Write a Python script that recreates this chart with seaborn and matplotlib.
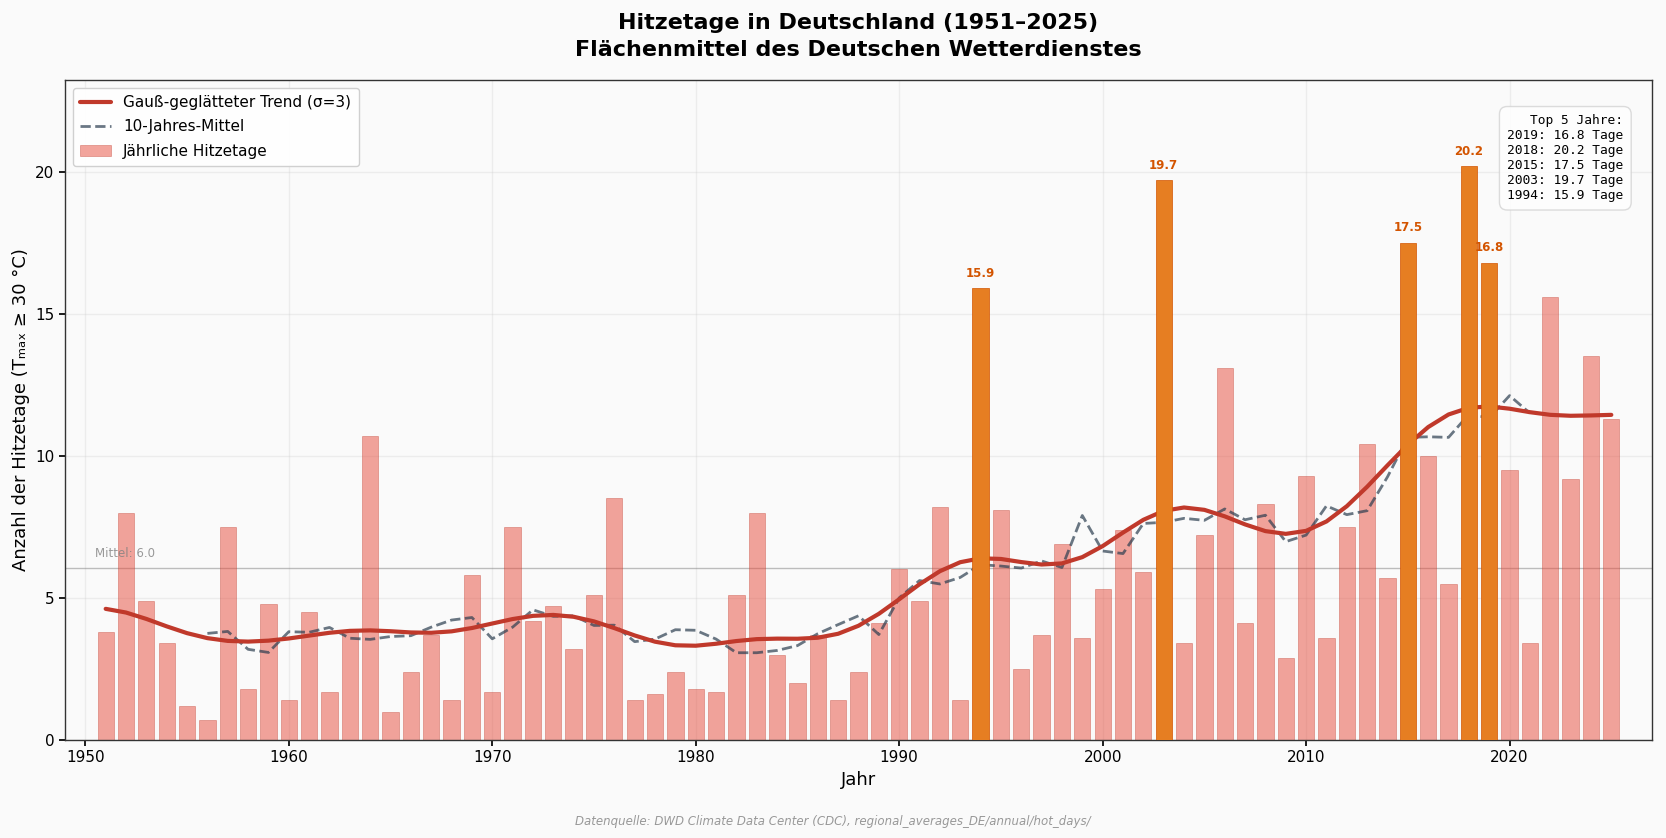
import numpy as np
import pandas as pd
import seaborn as sns
import matplotlib.pyplot as plt
from matplotlib.patches import Patch
from matplotlib.lines import Line2D

years = np.arange(1951, 2026)
hot_days = np.array([
    3.8, 8.0, 4.9, 3.4, 1.2, 0.7, 7.5, 1.8, 4.8, 1.4,
    4.5, 1.7, 3.8, 10.7, 1.0, 2.4, 3.7, 1.4, 5.8, 1.7,
    7.5, 4.2, 4.7, 3.2, 5.1, 8.5, 1.4, 1.6, 2.4, 1.8,
    1.7, 5.1, 8.0, 3.0, 2.0, 3.7, 1.4, 2.4, 4.1, 6.0,
    4.9, 8.2, 1.4, 15.9, 8.1, 2.5, 3.7, 6.9, 3.6, 5.3,
    7.4, 5.9, 19.7, 3.4, 7.2, 13.1, 4.1, 8.3, 2.9, 9.3,
    3.6, 7.5, 10.4, 5.7, 17.5, 10.0, 5.5, 20.2, 16.8, 9.5,
    3.4, 15.6, 9.2, 13.5, 11.3,
])
top_years = [2019, 2018, 2015, 2003, 1994]

SIGMA = 3


def gauss_smooth(values, sigma, truncate=4.0):
    # same as scipy gaussian_filter1d with mode="reflect"
    radius = int(truncate * sigma + 0.5)
    offs = np.arange(-radius, radius + 1)
    w = np.exp(-0.5 * (offs / sigma) ** 2)
    w /= w.sum()
    padded = np.pad(values, radius, mode="symmetric")
    return np.convolve(padded, w, mode="valid")


df = pd.DataFrame({"Jahr": years, "Hitzetage": hot_days})
df["Trend"] = gauss_smooth(hot_days, SIGMA)
df["Mittel10"] = df["Hitzetage"].rolling(10, center=True).mean()
df["top"] = df["Jahr"].isin(top_years)
mean_val = df["Hitzetage"].mean()

sns.set_theme(style="ticks")
plt.rcParams["font.family"] = ["DejaVu Sans"]
plt.rcParams.update({"text.color": "black", "axes.labelcolor": "black",
                     "xtick.color": "black", "ytick.color": "black"})

fig = plt.figure(figsize=(16.66, 8.38), dpi=100, facecolor="#fafafa")
ax = fig.add_axes([0.039, 0.117, 0.9526, 0.7876])
ax.set_facecolor("#fafafa")

sns.barplot(data=df[~df["top"]], x="Jahr", y="Hitzetage", native_scale=True,
            color="#e74c3c", alpha=0.5, saturation=1, errorbar=None,
            edgecolor="#c0392b", linewidth=0.5, width=0.8, ax=ax, zorder=2)

sns.lineplot(data=df, x="Jahr", y="Mittel10", color="#2c3e50", alpha=0.7,
             lw=2, ls="--", ax=ax, zorder=3)
sns.lineplot(data=df, x="Jahr", y="Trend", color="#c0392b", lw=3, ax=ax, zorder=4)

sns.barplot(data=df[df["top"]], x="Jahr", y="Hitzetage", native_scale=True,
            color="#e67e22", saturation=1, errorbar=None,
            edgecolor="#d35400", linewidth=0.5, width=0.8, ax=ax, zorder=5)

for _, r in df[df["top"]].iterrows():
    ax.text(r["Jahr"], r["Hitzetage"] + 0.3, f"{r['Hitzetage']:.1f}", ha="center",
            va="bottom", fontsize=8.5, fontweight="bold", color="#d35400", zorder=6)

ax.axhline(mean_val, color="gray", lw=1, alpha=0.5, zorder=1)
ax.text(years[0] - 0.5, mean_val + 0.3, f"Mittel: {mean_val:.1f}", fontsize=8.5,
        color="gray", alpha=0.8, va="bottom")

top_txt = "Top 5 Jahre:\n" + "\n".join(
    f"{y}: {df.loc[df['Jahr'] == y, 'Hitzetage'].iloc[0]:.1f} Tage" for y in top_years)
ax.text(0.982, 0.948, top_txt, transform=ax.transAxes, ha="right", va="top",
        fontsize=9.3, family="DejaVu Sans Mono", zorder=7,
        bbox=dict(boxstyle="round,pad=0.6", facecolor="white", edgecolor="lightgray", alpha=0.8))

ax.set_xlim(years[0] - 2, years[-1] + 2)
ax.set_ylim(0, hot_days.max() * 1.15)
ax.set_xticks(np.arange(1950, 2030, 10))
ax.set_yticks([0, 5, 10, 15, 20])
ax.tick_params(labelsize=11, colors="black", length=4)
ax.grid(True, alpha=0.3)
ax.set_axisbelow(True)
for s in ax.spines.values():
    s.set_visible(True)
    s.set_color("#333333")
    s.set_linewidth(1)

ax.set_xlabel("Jahr", fontsize=13)
ax.set_ylabel("Anzahl der Hitzetage (Tₘₐₓ ≥ 30 °C)", fontsize=13)
ax.set_title("Hitzetage in Deutschland (1951–2025)\nFlächenmittel des Deutschen Wetterdienstes",
             fontsize=16, fontweight="bold", pad=17, linespacing=1.45, color="black")

handles = [
    Line2D([], [], color="#c0392b", lw=3),
    Line2D([], [], color="#2c3e50", alpha=0.7, lw=2, ls="--"),
    Patch(facecolor="#e74c3c", alpha=0.5, edgecolor="#c0392b", linewidth=0.5),
]
labels = [f"Gauß-geglätteter Trend (σ={SIGMA})", "10-Jahres-Mittel", "Jährliche Hitzetage"]
ax.legend(handles, labels, loc="upper left", fontsize=11, framealpha=0.9, facecolor="white",
          labelspacing=0.6, borderpad=0.5)

fig.text(0.5, 0.02, "Datenquelle: DWD Climate Data Center (CDC), regional_averages_DE/annual/hot_days/",
         ha="center", va="center", fontsize=8.5, style="italic", color="gray", alpha=0.8)

fig.savefig("out.png", dpi=100, facecolor=fig.get_facecolor())
